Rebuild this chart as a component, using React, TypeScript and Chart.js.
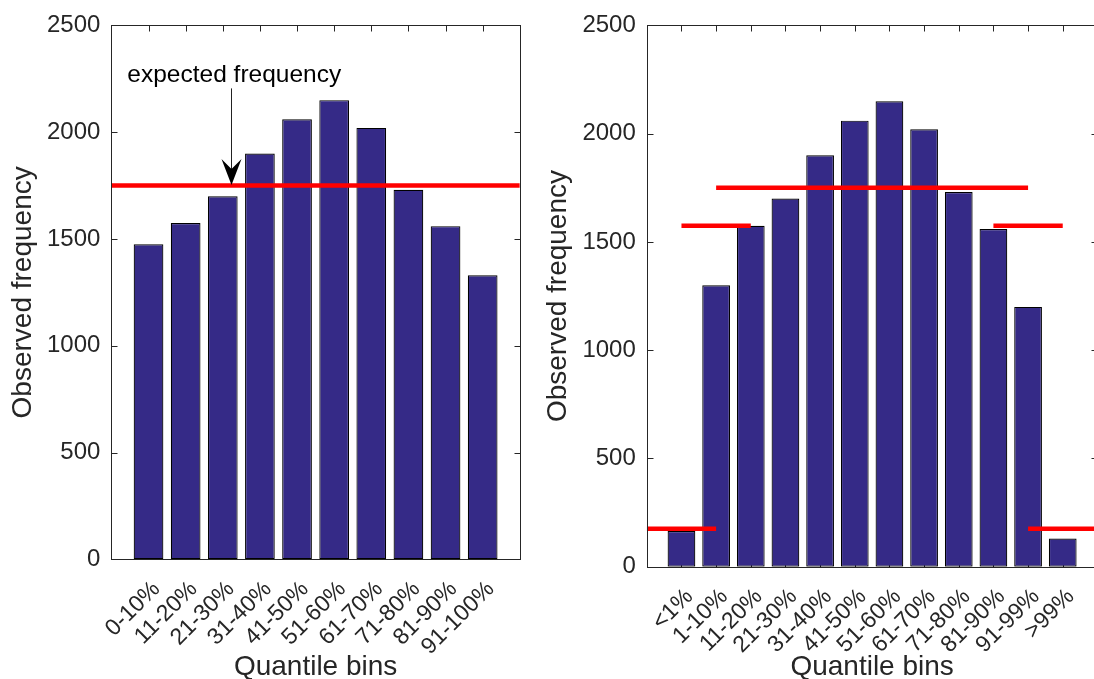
import React, { useEffect, useRef } from "react";
import { Chart, registerables } from "chart.js";

Chart.register(...registerables);

// ---------- data ----------
const leftCategories = ["0-10%", "11-20%", "21-30%", "31-40%", "41-50%", "51-60%", "61-70%", "71-80%", "81-90%", "91-100%"];
const leftObserved = [1475, 1575, 1700, 1900, 2060, 2150, 2020, 1730, 1560, 1330];
const leftExpectedLevels = [1750];
const leftExpectedFrom = [0];
const leftExpectedTo = [11];

const rightCategories = ["<1%", "1-10%", "11-20%", "21-30%", "31-40%", "41-50%", "51-60%", "61-70%", "71-80%", "81-90%", "91-99%", ">99%"];
const rightObserved = [165, 1300, 1575, 1700, 1900, 2060, 2150, 2020, 1730, 1560, 1200, 130];
const rightExpectedLevels = [175, 1575, 1750, 1575, 175];
const rightExpectedFrom = [0, 1, 2, 10, 11];
const rightExpectedTo = [2, 3, 11, 12, 13];

const yTickValues = [0, 500, 1000, 1500, 2000, 2500];
const yMax = 2500;
const yTitle = "Observed frequency";
const xTitle = "Quantile bins";
const annotationText = "expected frequency";

// ---------- styles ----------
const FONT = "'Liberation Sans', Arial, Helvetica, sans-serif";
const TEXT = "#262626";
const BAR = "#352A87";
const RED = "#FF0000";
const CANVAS_H = 700;

type Layout = {
  canvasLeft: number;
  width: number;
  areaLeft: number;
  areaRight: number;
  areaTop: number;
  areaBottom: number;
};

const leftLayout: Layout = { canvasLeft: 0, width: 540, areaLeft: 111.4, areaRight: 519.8, areaTop: 19.3, areaBottom: 559.3 };
const rightLayout: Layout = { canvasLeft: 535, width: 583, areaLeft: 646.8, areaRight: 1097.4, areaTop: 16.7, areaBottom: 566.7 };

const framePlugin = {
  id: "matlabFrame",
  beforeDatasetsDraw(chart: any) {
    const { ctx, chartArea: a, scales } = chart;
    const L = Math.round(a.left) + 0.5;
    const R = Math.round(a.right) + 0.5;
    const T = Math.round(a.top) + 0.5;
    const B = Math.round(a.bottom) + 0.5;
    const TL = 6;
    ctx.save();
    ctx.strokeStyle = TEXT;
    ctx.lineWidth = 1;
    ctx.beginPath();
    for (const t of scales.y.ticks) {
      const y = Math.round(scales.y.getPixelForValue(t.value)) + 0.5;
      ctx.moveTo(L, y);
      ctx.lineTo(L + TL, y);
      ctx.moveTo(R, y);
      ctx.lineTo(R - TL, y);
    }
    for (const t of scales.x.ticks) {
      const x = Math.round(scales.x.getPixelForValue(t.value)) + 0.5;
      ctx.moveTo(x, T);
      ctx.lineTo(x, T + TL);
      ctx.moveTo(x, B);
      ctx.lineTo(x, B - TL);
    }
    ctx.stroke();
    ctx.restore();
  },
  afterDatasetsDraw(chart: any) {
    const { ctx, chartArea: a } = chart;
    const L = Math.round(a.left) + 0.5;
    const R = Math.round(a.right) + 0.5;
    const T = Math.round(a.top) + 0.5;
    const B = Math.round(a.bottom) + 0.5;
    ctx.save();
    ctx.strokeStyle = TEXT;
    ctx.lineWidth = 1;
    ctx.strokeRect(L, T, R - L, B - T);
    ctx.restore();
  },
};

// annotation placement in data units (left panel)
const annotationTextX = 3.31;
const annotationTextY = 2234;
const arrowX = 3.21;
const arrowTailY = 2205;
const arrowTipY = 1753;

const annotationPlugin = {
  id: "textArrow",
  afterDatasetsDraw(chart: any) {
    const { ctx, scales } = chart;
    const xs = scales.x;
    const ys = scales.y;
    ctx.save();
    ctx.fillStyle = "#000";
    ctx.font = `24.5px ${FONT}`;
    ctx.textAlign = "center";
    ctx.textBaseline = "alphabetic";
    ctx.fillText(annotationText, xs.getPixelForValue(annotationTextX), ys.getPixelForValue(annotationTextY));
    const x = Math.round(xs.getPixelForValue(arrowX)) + 0.5;
    const tail = ys.getPixelForValue(arrowTailY);
    const tip = ys.getPixelForValue(arrowTipY);
    ctx.strokeStyle = "#222";
    ctx.lineWidth = 1;
    ctx.beginPath();
    ctx.moveTo(x, tail);
    ctx.lineTo(x, tip - 14);
    ctx.stroke();
    ctx.beginPath();
    ctx.moveTo(x, tip);
    ctx.lineTo(x - 10, tip - 26);
    ctx.lineTo(x, tip - 16);
    ctx.lineTo(x + 10, tip - 26);
    ctx.closePath();
    ctx.fill();
    ctx.restore();
  },
};

type PanelProps = {
  categories: string[];
  observed: number[];
  levels: number[];
  from: number[];
  to: number[];
  layout: Layout;
  annotate?: boolean;
};

function Panel({ categories, observed, levels, from, to, layout, annotate }: PanelProps) {
  const ref = useRef<HTMLCanvasElement | null>(null);

  useEffect(() => {
    if (!ref.current) return;
    const lay = layout;
    const lineSets = levels.map((lv, k) => ({
      type: "line" as const,
      data: [
        { x: from[k], y: lv },
        { x: to[k], y: lv },
      ],
      borderColor: RED,
      backgroundColor: RED,
      borderWidth: 4.5,
      borderCapStyle: "butt" as const,
      pointRadius: 0,
      fill: false,
      tension: 0,
      order: 0,
    }));
    const chart = new Chart(ref.current, {
      type: "bar",
      data: {
        datasets: [
          {
            type: "bar" as const,
            data: observed.map((v, i) => ({ x: i + 1, y: v })),
            backgroundColor: BAR,
            borderColor: "#000",
            borderWidth: 1.2,
            borderSkipped: false,
            barPercentage: 0.8,
            categoryPercentage: 1,
            order: 1,
          },
          ...lineSets,
        ] as any,
      },
      options: {
        responsive: false,
        animation: false,
        devicePixelRatio: 1,
        events: [],
        layout: {
          padding: {
            left: 0,
            top: lay.areaTop,
            right: lay.width - (lay.areaRight - lay.canvasLeft),
            bottom: 0,
          },
        },
        plugins: {
          legend: { display: false },
          tooltip: { enabled: false },
        },
        scales: {
          x: {
            type: "linear",
            min: 0,
            max: categories.length + 1,
            offset: false,
            bounds: "data",
            grid: { display: false, drawTicks: false },
            border: { display: false },
            afterBuildTicks: (s: any) => {
              s.ticks = categories.map((_, i) => ({ value: i + 1 }));
            },
            afterFit: (s: any) => {
              s.height = CANVAS_H - lay.areaBottom;
            },
            ticks: {
              autoSkip: false,
              minRotation: 45,
              maxRotation: 45,
              padding: 16.5,
              labelOffset: 8,
              color: TEXT,
              font: { family: FONT, size: 23 },
              callback: (v: any) => categories[Math.round(Number(v)) - 1] ?? "",
            },
            title: {
              display: true,
              text: xTitle,
              color: TEXT,
              font: { family: FONT, size: 28 },
              padding: { top: 0, bottom: 16 },
            },
          },
          y: {
            type: "linear",
            min: 0,
            max: yMax,
            bounds: "data",
            grid: { display: false, drawTicks: false },
            border: { display: false },
            afterBuildTicks: (s: any) => {
              s.ticks = yTickValues.map((v) => ({ value: v }));
            },
            afterFit: (s: any) => {
              s.width = lay.areaLeft - lay.canvasLeft;
            },
            ticks: {
              padding: 11,
              color: TEXT,
              font: { family: FONT, size: 24 },
              callback: (v: any) => String(v),
            },
            title: {
              display: true,
              text: yTitle,
              color: TEXT,
              font: { family: FONT, size: 28 },
              padding: { top: 6.5, bottom: 0 },
            },
          },
        },
      } as any,
      plugins: annotate ? [framePlugin, annotationPlugin] : [framePlugin],
    });
    return () => chart.destroy();
  }, [categories, observed, levels, from, to, layout, annotate]);

  return (
    <canvas
      ref={ref}
      width={layout.width}
      height={CANVAS_H}
      style={{
        position: "absolute",
        left: layout.canvasLeft,
        top: 0,
        width: layout.width,
        height: CANVAS_H,
      }}
    />
  );
}

export default function App() {
  return (
    <div
      style={{
        position: "fixed",
        left: 0,
        top: 0,
        width: 1094,
        height: 679,
        overflow: "hidden",
        background: "#fff",
      }}
    >
      <Panel
        categories={leftCategories}
        observed={leftObserved}
        levels={leftExpectedLevels}
        from={leftExpectedFrom}
        to={leftExpectedTo}
        layout={leftLayout}
        annotate
      />
      <Panel
        categories={rightCategories}
        observed={rightObserved}
        levels={rightExpectedLevels}
        from={rightExpectedFrom}
        to={rightExpectedTo}
        layout={rightLayout}
      />
    </div>
  );
}
